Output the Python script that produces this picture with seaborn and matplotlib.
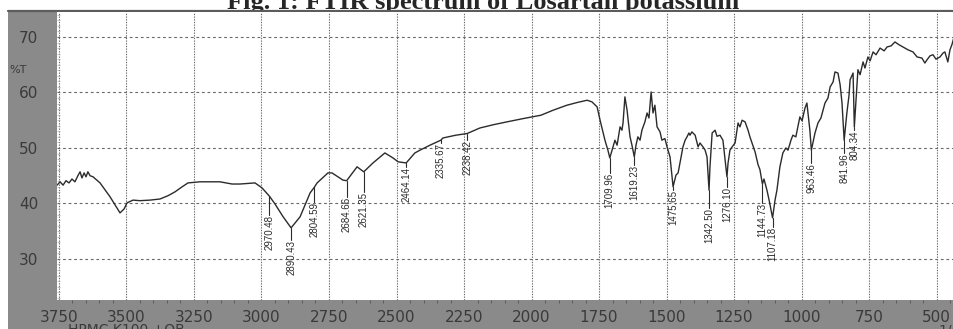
import matplotlib
matplotlib.use("Agg")
import matplotlib.pyplot as plt
from matplotlib.patches import Rectangle
from matplotlib.lines import Line2D
from matplotlib.ticker import MultipleLocator
import numpy as np
import pandas as pd
import seaborn as sns

# FTIR spectrum, wavenumber (1/cm) against transmittance (%T)
wavenumber = [
    3757, 3746, 3735, 3724, 3713, 3702, 3691, 3680, 3672, 3665, 3657, 3650, 3643, 3635,
    3624, 3598, 3561, 3524, 3509, 3498, 3476, 3450, 3413, 3376, 3346, 3320, 3294, 3272,
    3228, 3154, 3109, 3080, 3024, 2998, 2970.48, 2950, 2920, 2890.43, 2857, 2820, 2804.59,
    2794, 2754, 2739, 2698, 2684.66, 2646, 2621.35, 2587, 2543, 2513, 2494, 2464.14, 2432,
    2413, 2376, 2335.67, 2328, 2280, 2238.42, 2191, 2140, 2091, 2030, 1965, 1920, 1869,
    1830, 1794, 1776, 1757, 1746, 1728, 1717, 1709.96, 1698, 1691, 1683, 1672, 1665, 1661,
    1654, 1646, 1643, 1635, 1628, 1619.23, 1613, 1606, 1598, 1591, 1580, 1572, 1565, 1557,
    1550, 1543, 1535, 1524, 1517, 1506, 1498, 1487, 1484, 1475.65, 1465, 1457, 1450, 1439,
    1431, 1424, 1417, 1413, 1406, 1394, 1383, 1376, 1365, 1357, 1350, 1342.50, 1339, 1331,
    1320, 1313, 1302, 1291, 1276.10, 1272, 1265, 1257, 1246, 1235, 1228, 1220, 1209, 1198,
    1191, 1172, 1161, 1154, 1144.73, 1139, 1128, 1120, 1107.18, 1098, 1091, 1080, 1069,
    1058, 1050, 1039, 1032, 1021, 1006, 998, 987, 980, 969, 963.46, 950, 939, 928, 913, 902,
    894, 883, 876, 865, 857, 850, 841.96, 832, 824, 820, 809, 804.34, 791, 783, 772, 765,
    754, 746, 735, 724, 709, 694, 683, 668, 654, 639, 624, 606, 587, 572, 554, 543, 535,
    524, 513, 502, 487, 476, 469, 458, 450, 443, 435,
]
transmittance = [
    43.3, 43.9, 43.3, 44.1, 43.7, 44.4, 43.9, 45.0, 45.7, 44.6, 45.5, 44.8, 45.7, 45.0,
    44.8, 43.7, 41.2, 38.3, 39.0, 40.1, 40.6, 40.5, 40.6, 40.8, 41.4, 42.1, 43.0, 43.7,
    43.9, 43.9, 43.5, 43.5, 43.7, 42.8, 41.3, 39.9, 37.6, 35.6, 37.6, 41.9, 42.9,
    43.7, 45.5, 45.5, 44.2, 44.1, 46.6, 45.7, 47.3, 49.1, 48.2, 47.5, 47.3, 49.1,
    49.6, 50.5, 51.4, 51.8, 52.3, 52.6, 53.6, 54.2, 54.7, 55.3, 55.9, 56.8, 57.7,
    58.2, 58.6, 58.3, 57.4, 55.0, 51.4, 49.6, 48.2, 50.2, 51.4, 50.5, 53.8, 53.2, 54.5,
    59.2, 56.8, 55.4, 52.0, 50.5, 48.4, 50.5, 52.0, 51.4, 53.2, 54.7, 56.3, 55.4, 60.1,
    56.3, 57.7, 53.8, 52.9, 51.4, 51.7, 50.2, 48.4, 47.0, 43.0, 45.1, 45.5, 47.3, 50.2,
    51.4, 52.0, 52.7, 52.3, 52.9, 52.3, 50.2, 50.9, 50.2, 49.6, 48.4, 42.4, 46.6, 52.7,
    53.2, 52.1, 52.3, 51.4, 44.8, 47.3, 49.6, 50.2, 50.9, 54.5, 53.8, 55.0, 54.7, 53.2,
    52.0, 49.3, 47.0, 46.1, 43.5, 44.4, 42.4, 40.6, 37.4, 40.6, 42.4, 46.6, 49.1,
    50.0, 49.6, 51.4, 52.3, 52.0, 55.6, 54.9, 57.2, 58.1, 53.2, 49.6, 52.7, 54.5, 55.4, 58.1, 59.0,
    61.0, 61.9, 63.7, 63.5, 61.4, 58.1, 51.4, 56.3, 59.5, 62.3, 63.5, 53.8, 64.1, 63.2, 65.5, 64.4,
    66.4, 65.7, 67.3, 66.8, 68.0, 67.5, 68.2, 68.4, 69.1, 68.6, 68.2, 67.7, 67.3, 66.4, 66.2, 65.3, 65.9,
    66.6, 66.8, 66.0, 66.4, 67.1, 67.3, 65.5, 67.7, 68.6, 70.0,
]

# Annotated absorption bands
peak_positions = [2970.48, 2890.43, 2804.59, 2684.66, 2621.35, 2464.14, 2335.67, 2238.42,
                  1709.96, 1619.23, 1475.65, 1342.50, 1276.10, 1144.73, 1107.18,
                  963.46, 841.96, 804.34]
# %T level where each rotated label ends (leader line runs from band to here)
label_ends = [37.9, 33.4, 40.3, 41.2, 42.1, 46.5, 50.9, 51.4,
              45.5, 46.9, 42.4, 39.2, 43.0, 40.1, 35.8,
              47.3, 49.1, 53.2]

x_ticks = [3750, 3500, 3250, 3000, 2750, 2500, 2250, 2000, 1750, 1500, 1250, 1000, 750, 500]
y_ticks = [30, 40, 50, 60, 70]

title = "Fig. 1: FTIR spectrum of Losartan potassium"
sample_name = "HPMC K100 +OB"

sns.set_style("white")
plt.rcParams["font.family"] = ["DejaVu Sans"]

W, H = 954, 329
fig = plt.figure(figsize=(W / 100, H / 100), dpi=100)
fig.patch.set_facecolor("white")

# grey instrument frame
frame_col = "#8a8a8a"
fig.add_artist(Rectangle((8 / W, 0), 1, (H - 9.5) / H, transform=fig.transFigure,
                         facecolor=frame_col, edgecolor="none", zorder=-1))
fig.add_artist(Line2D([8 / W, 1], [1 - 10.5 / H, 1 - 10.5 / H], transform=fig.transFigure,
                      color="#5c5c5c", lw=1.6, zorder=-0.5))

fig.text(483 / W, 1 - 8.5 / H, title, ha="center", va="baseline", fontsize=19,
         fontweight="bold", family=["Liberation Serif", "DejaVu Serif"], zorder=-2)

ax = fig.add_axes([57 / W, 1 - 300 / H, (W - 57) / W, 288 / H])
ax.set_zorder(0)
ax.set_facecolor("white")

df = pd.DataFrame({"wavenumber": wavenumber, "T": transmittance})
sns.lineplot(data=df, x="wavenumber", y="T", sort=False, estimator=None,
             color="#2b2b2b", lw=1.0, ax=ax)

ax.set_xlim(3757.4, 435.2)
ax.set_ylim(22.6, 74.5)

# peak labels with leader lines
label_font = ["Liberation Sans", "DejaVu Sans"]
for p, end in zip(peak_positions, label_ends):
    t_at = np.interp(p, wavenumber[::-1], transmittance[::-1])
    ax.plot([p, p], [t_at, end], color="#2b2b2b", lw=0.8)
    ax.text(p, end, f"{p:.2f}", rotation=90, ha="center", va="top",
            fontsize=7, family=label_font, color="#2b2b2b")

# axes, ticks, grid
ax.set_xticks(x_ticks)
ax.set_yticks(y_ticks)
ax.xaxis.set_minor_locator(MultipleLocator(50))
ax.yaxis.set_minor_locator(MultipleLocator(1))
ax.tick_params(axis="x", which="major", direction="out", length=4, width=0.8,
               color="#444444", labelsize=11, labelcolor="#3a3a3a", pad=3)
ax.tick_params(axis="x", which="minor", direction="out", length=2.5, width=0.6,
               color="#555555", bottom=True)
ax.tick_params(axis="y", which="major", direction="out", length=12, width=0.9,
               color="#4a4a4a", labelsize=11, labelcolor="#3a3a3a", pad=1.5)
ax.tick_params(axis="y", which="minor", direction="in", length=2.5, width=0.5,
               color="#aaaaaa", left=True)
ax.set_xlabel("")
ax.set_ylabel("")
for s in ax.spines.values():
    s.set_visible(False)

ax.xaxis.grid(True, which="major", linestyle=(0, (1.2, 1.2)), color="#6a6a6a", lw=0.8)
ax.yaxis.grid(True, which="major", linestyle=(0, (2.5, 2.5)), color="#6a6a6a", lw=0.8)
ax.set_axisbelow(True)

fig.text(9 / W, 1 - 70 / H, "%T", fontsize=8, color="#3a3a3a", va="center", ha="left")
fig.text(68 / W, 1 - 323 / H, sample_name, fontsize=10, color="#3a3a3a", va="top", ha="left")
fig.text(938 / W, 1 - 323 / H, "1/cm", fontsize=10, color="#3a3a3a", va="top", ha="left")

fig.savefig("out.png", dpi=100, facecolor=fig.get_facecolor())
